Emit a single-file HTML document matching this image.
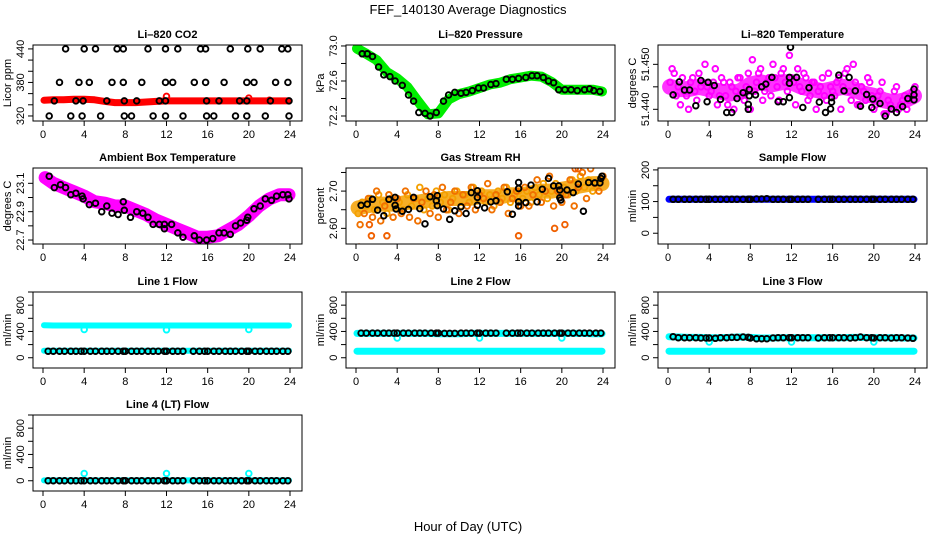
<!DOCTYPE html>
<html><head><meta charset="utf-8"><style>
html,body{margin:0;padding:0;background:#fff;}
svg{display:block;font-family:"Liberation Sans",Arial,sans-serif;}
</style></head><body>
<svg id="chart" width="936" height="540" viewBox="0 0 936 540" xmlns="http://www.w3.org/2000/svg">
<text x="468" y="14" text-anchor="middle" font-size="13">FEF_140130  Average Diagnostics</text>
<text x="468" y="531" text-anchor="middle" font-size="13">Hour of Day (UTC)</text>
</svg>
<script>
// ---------- shared categories ----------
const xTicks = [0,4,8,12,16,20,24];
const bandHours = [0,1,2,3,4,5,6,7,8,9,10,11,12,13,14,15,16,17,18,19,20,21,22,23,24];
const flowHours = [0.5,1.0,1.6,2.1,2.7,3.2,3.7,4.0,4.6,5.1,5.7,6.2,6.7,7.3,7.8,8.0,8.6,9.1,9.6,10.2,10.7,11.2,11.8,12.0,12.6,13.1,13.6,14.6,15.2,15.7,16.0,16.6,17.1,17.7,18.2,18.7,19.3,19.8,20.0,20.6,21.1,21.7,22.2,22.7,23.3,23.8];
const cloudHoursA = [0.2,0.6,1.0,1.4,1.8,2.2,2.6,3.0,3.4,3.8,4.2,4.6,5.0,5.4,5.8,6.2,6.6,7.0,7.4,7.8,8.2,8.6,9.0,9.4,9.8,10.2,10.6,11.0,11.4,11.8,12.2,12.6,13.0,13.4,13.8,14.2,14.6,15.0,15.4,15.8,16.2,16.6,17.0,17.4,17.8,18.2,18.6,19.0,19.4,19.8,20.2,20.6,21.0,21.4,21.8,22.2,22.6,23.0,23.4,23.8];
const cloudHoursB = [0.4,0.8,1.2,1.6,2.0,2.4,2.8,3.2,3.6,4.0,4.4,4.8,5.2,5.6,6.0,6.4,6.8,7.2,7.6,8.0,8.4,8.8,9.2,9.6,10.0,10.4,10.8,11.2,11.6,12.0,12.4,12.8,13.2,13.6,14.0,14.4,14.8,15.2,15.6,16.0,16.4,16.8,17.2,17.6,18.0,18.4,18.8,19.2,19.6,20.0,20.4,20.8,21.2,21.6,22.0,22.4,22.8,23.2,23.6,24.0];
const dipHours = [4,12,20];

// ---------- Li-820 CO2 ----------
const co2Band = [348,349,349,350,350,349,346,344,344,344,345,346,347,347,347,347,347,347,347,347,347,347,347,347,347];
const co2RedHours = [12,20,22];
const co2RedVals = [355,352,348];
const co2BlackHours = [2.2,4.0,5.1,7.2,7.8,10.2,11.9,13.1,15.3,15.8,18.2,19.9,21.1,23.2,23.8, 1.6,3.5,4.5,6.7,7.8,9.6,11.9,12.6,14.7,15.8,17.6,19.8,20.5,22.6,23.8, 1.1,3.2,3.9,6.2,7.9,9.1,11.3,11.9,15.9,17.1,19.1,19.8,22.1,23.9, 0.6,2.7,3.8,5.6,7.9,8.6,10.7,11.9,13.6,15.9,16.6,18.7,19.8,21.6,23.9];
const co2BlackVals = [440,440,440,440,440,440,440,440,440,440,440,440,440,440,440, 380,380,380,380,380,380,380,380,380,380,380,380,380,380,380, 347,347,347,347,347,347,347,347,347,347,347,347,347,347, 320,320,320,320,320,320,320,320,320,320,320,320,320,320,320];

// ---------- Li-820 Pressure ----------
const presBand = [72.97,72.91,72.84,72.70,72.63,72.53,72.37,72.22,72.23,72.39,72.45,72.48,72.52,72.56,72.58,72.62,72.64,72.66,72.65,72.59,72.50,72.50,72.50,72.50,72.48];
const presBlackHours = [0.6,1.1,1.6,2.2,2.7,3.3,3.8,4.5,5.1,5.6,6.1,6.7,7.2,7.8,8.5,9.0,9.6,10.2,10.7,11.3,11.9,12.4,13.1,13.6,14.6,15.2,15.8,16.5,17.1,17.6,18.2,18.7,19.2,19.7,20.3,20.9,21.5,22.2,22.7,23.1,23.7];
const presBlackVals = [72.91,72.91,72.88,72.76,72.67,72.65,72.60,72.55,72.44,72.37,72.24,72.23,72.20,72.24,72.37,72.44,72.47,72.46,72.47,72.49,72.52,72.52,72.56,72.57,72.62,72.62,72.63,72.64,72.66,72.66,72.64,72.60,72.58,72.50,72.50,72.50,72.49,72.50,72.51,72.49,72.48];

// ---------- Li-820 Temperature ----------
const ltempCore = [51.4450,51.4445,51.4445,51.4450,51.4445,51.4440,51.4435,51.4440,51.4455,51.4460,51.4455,51.4460,51.4460,51.4450,51.4445,51.4440,51.4445,51.4450,51.4445,51.4435,51.4430,51.4420,51.4415,51.4420,51.4430];
const ltempA = [51.446,51.448,51.445,51.447,51.443,51.446,51.444,51.448,51.446,51.445,51.444,51.449,51.443,51.446,51.441,51.445,51.444,51.447,51.442,51.448,51.451,51.446,51.449,51.444,51.447,51.450,51.445,51.448,51.446,51.452,51.446,51.449,51.444,51.447,51.443,51.446,51.444,51.447,51.442,51.445,51.443,51.447,51.445,51.449,51.442,51.446,51.441,51.444,51.447,51.443,51.441,51.444,51.439,51.442,51.440,51.445,51.441,51.443,51.442,51.444];
const ltempB = [51.449,51.443,51.441,51.444,51.440,51.447,51.442,51.445,51.450,51.443,51.446,51.441,51.447,51.443,51.446,51.440,51.447,51.443,51.445,51.440,51.444,51.448,51.442,51.446,51.443,51.447,51.442,51.449,51.444,51.447,51.441,51.445,51.448,51.442,51.446,51.440,51.445,51.443,51.448,51.444,51.446,51.440,51.448,51.444,51.450,51.441,51.445,51.442,51.446,51.440,51.443,51.446,51.439,51.441,51.444,51.440,51.442,51.440,51.443,51.445];
const ltempBlackHours = [0.5,1.1,1.6,2.1,2.7,3.2,3.8,3.9,4.5,5.1,5.7,6.2,6.7,7.3,7.8,7.8,7.9,7.9,8.5,9.1,9.5,10.1,10.7,11.2,11.8,11.8,11.8,11.9,12.5,13.1,13.7,14.7,15.3,15.8,15.9,15.9,16.6,17.6,17.1,18.2,18.7,19.3,19.8,19.9,20.6,21.1,21.7,22.2,22.8,23.3,23.9,23.9,23.9];
const ltempBlackVals = [51.4432,51.4461,51.4443,51.4443,51.4408,51.4464,51.4417,51.4460,51.4453,51.4422,51.4393,51.4393,51.4424,51.4437,51.4411,51.4400,51.4444,51.4430,51.4432,51.4450,51.4456,51.4471,51.4417,51.4417,51.4426,51.4471,51.4458,51.4538,51.4471,51.4404,51.4448,51.4416,51.4393,51.4401,51.4426,51.4416,51.4476,51.4471,51.4441,51.4441,51.4407,51.4433,51.4404,51.4423,51.4413,51.4385,51.4401,51.4393,51.4406,51.4424,51.4445,51.4432,51.4421];

// ---------- Ambient Box Temperature ----------
const ambBand = [23.14,23.10,23.07,23.04,23.01,22.97,22.96,22.94,22.94,22.91,22.88,22.84,22.81,22.78,22.75,22.72,22.72,22.73,22.77,22.81,22.87,22.94,22.99,23.02,23.02];
const ambBlackHours = [0.6,1.1,1.7,2.2,2.7,3.2,3.8,3.9,4.5,5.1,5.7,6.2,6.7,7.3,7.8,7.9,8.5,9.1,9.7,10.2,10.7,11.3,11.8,11.8,12.5,13.1,13.6,14.7,15.2,15.9,16.5,17.1,17.6,18.2,18.7,19.2,19.8,19.9,20.5,21.1,21.6,22.2,22.7,23.3,23.8,23.9];
const ambBlackVals = [23.15,23.07,23.09,23.07,23.02,23.03,23.01,22.99,22.95,22.96,22.90,22.94,22.89,22.88,22.97,22.91,22.86,22.90,22.89,22.86,22.81,22.81,22.81,22.78,22.81,22.75,22.72,22.73,22.70,22.70,22.71,22.75,22.75,22.74,22.80,22.82,22.84,22.86,22.92,22.94,22.99,22.98,23.01,23.02,23.02,22.99];

// ---------- Gas Stream RH ----------
const rhCore = [2.655,2.660,2.665,2.665,2.665,2.670,2.670,2.675,2.675,2.680,2.680,2.680,2.685,2.685,2.685,2.690,2.690,2.695,2.700,2.700,2.705,2.710,2.715,2.720,2.720];
const rhA = [2.64,2.67,2.66,2.68,2.65,2.69,2.67,2.64,2.68,2.66,2.67,2.65,2.69,2.66,2.68,2.71,2.65,2.68,2.66,2.70,2.67,2.69,2.65,2.68,2.70,2.66,2.69,2.67,2.71,2.68,2.70,2.67,2.69,2.66,2.70,2.68,2.71,2.67,2.69,2.70,2.68,2.70,2.67,2.71,2.69,2.72,2.68,2.70,2.72,2.69,2.71,2.69,2.73,2.70,2.74,2.71,2.73,2.70,2.72,2.73];
const rhB = [2.61,2.64,2.68,2.63,2.70,2.62,2.66,2.69,2.63,2.68,2.64,2.70,2.63,2.68,2.62,2.67,2.70,2.64,2.69,2.63,2.71,2.65,2.67,2.70,2.64,2.69,2.66,2.71,2.65,2.69,2.68,2.72,2.65,2.69,2.67,2.71,2.64,2.68,2.70,2.66,2.71,2.66,2.69,2.73,2.67,2.70,2.74,2.66,2.70,2.67,2.69,2.73,2.66,2.71,2.75,2.68,2.76,2.72,2.70,2.74];
const rhOutHours = [0.3,1.5,3.0,1.3,15.8,19.3,20.3,21.6,21.3];
const rhOutVals = [2.55,2.58,2.58,2.61,2.58,2.60,2.61,2.76,2.76];
const rhBlackHours = [0.5,1.1,1.6,2.1,2.7,3.2,3.8,3.8,3.9,4.5,5.1,5.6,6.2,6.7,7.2,7.8,7.9,7.9,8.5,9.1,9.6,10.2,10.7,11.2,11.8,11.8,11.8,12.5,13.1,13.6,14.7,15.2,15.8,15.8,15.8,15.8,16.5,17.0,17.6,18.1,18.7,19.2,19.7,19.8,19.8,19.9,20.5,21.1,21.6,22.1,22.6,23.2,23.7,23.8,23.9];
const rhBlackVals = [2.662,2.665,2.678,2.649,2.634,2.678,2.683,2.662,2.652,2.646,2.651,2.683,2.653,2.612,2.685,2.674,2.688,2.661,2.652,2.624,2.647,2.658,2.640,2.696,2.701,2.683,2.662,2.655,2.671,2.674,2.698,2.638,2.707,2.723,2.671,2.660,2.669,2.716,2.671,2.705,2.734,2.714,2.714,2.703,2.682,2.676,2.703,2.696,2.719,2.646,2.723,2.722,2.722,2.734,2.740];

// ---------- Sample Flow ----------
const sampleBand = [107,107,107,107,107,107,107,107,107,107,107,107,107,107,107,107,107,107,107,107,107,107,107,107,107];
const sampleBlack = [107,107,107,107,107,107,107,107,107,107,107,107,107,107,107,107,108,108,109,107,107,107,107,107,107,107,107,107,107,107,107,107,107,107,107,107,107,107,107,107,107,107,107,107,107,107];

// ---------- Line flows ----------
const l1Upper = [495,490,490,490,490,490,490,490,490,490,490,490,490,490,490,490,490,490,490,490,490,490,490,490,490];
const l1Lower = [105,105,105,105,105,105,105,105,105,105,105,105,105,105,105,105,105,105,105,105,105,105,105,105,105];
const l1DipVals = [430,425,430];
const l1Black = [100,100,100,100,100,100,100,100,100,100,100,100,100,100,100,100,100,100,100,100,100,100,100,100,100,100,100,100,100,100,100,100,100,100,100,100,100,100,100,100,100,100,100,100,100,100];

const l2Upper = [370,370,370,370,370,370,370,370,365,365,365,370,370,370,370,370,370,370,370,370,370,370,370,365,365];
const l2Lower = [100,100,100,100,100,100,100,100,100,100,100,100,100,100,100,100,100,100,100,100,100,100,100,100,100];
const l2DipVals = [300,300,300];
const l2Black = [375,375,375,375,375,375,375,375,375,375,375,375,375,375,375,375,370,370,370,375,375,375,375,375,375,375,375,375,375,375,375,375,375,375,375,375,375,375,375,375,375,375,375,375,375,375];

const l3Upper = [320,315,310,310,305,305,310,315,310,300,300,305,305,305,305,305,305,305,310,310,305,305,305,300,300];
const l3Lower = [100,100,100,100,100,100,100,100,100,100,100,100,100,100,100,100,100,100,100,100,100,100,100,100,100];
const l3DipVals = [240,240,240];
const l3Black = [320,305,305,305,305,300,300,300,295,305,305,310,310,315,310,300,290,290,290,300,305,305,305,305,305,305,305,300,305,305,305,305,305,300,305,315,305,305,300,305,305,300,305,305,300,295];

const l4Lower = [5,5,5,5,5,5,5,5,5,5,5,5,5,5,5,5,5,5,5,5,5,5,5,5,5];
const l4DipVals = [110,110,110];
const l4Black = [0,0,0,0,0,0,0,0,0,0,0,0,0,0,0,0,0,0,0,0,0,0,0,0,0,0,0,0,0,0,0,0,0,0,0,0,0,0,0,0,0,0,0,0,0,0];

// ---------- layout ----------
const svg = document.getElementById('chart');
const NS = 'http://www.w3.org/2000/svg';
const colLeft = [33, 346, 658];
const rowTop = [45, 168, 292, 415];
const boxW = 269, boxH = 76;

function mk(tag, attrs, parent){
  const e = document.createElementNS(NS, tag);
  for (const k in attrs) e.setAttribute(k, attrs[k]);
  (parent||svg).appendChild(e);
  return e;
}

function makePanel(cfg){
  const L = colLeft[cfg.col], T = rowTop[cfg.row];
  const g = mk('g', {});
  
  
  const xs = h => L + 10 + h * (247/24);
  const ys = v => T + boxH - (v - cfg.ylim[0]) / (cfg.ylim[1] - cfg.ylim[0]) * boxH;
  const t = mk('text', {x: L + boxW/2, y: T - 7, 'text-anchor':'middle', 'font-size':11, 'font-weight':'bold'}, g);
  t.textContent = cfg.title;
  
  
  const clip = mk('clipPath', {id: 'clip-' + cfg.name}, g);
  mk('rect', {x: L, y: T, width: boxW, height: boxH}, clip);
  const plot = mk('g', {'clip-path': 'url(#clip-' + cfg.name + ')'}, g);
  
  
  return {g, plot, xs, ys, L, T};
}

function axes(p, cfg){
  const {g, xs, ys, L, T} = p;
  const box = mk('rect', {x: L, y: T, width: boxW, height: boxH, fill: 'none', stroke: '#000', 'stroke-width': 1}, g);
  
  
  const B = T + boxH;
  mk('line', {x1: xs(0), x2: xs(24), y1: B, y2: B, stroke: '#000'}, g);
  xTicks.forEach(v => {
    mk('line', {x1: xs(v), x2: xs(v), y1: B, y2: B + 5, stroke: '#000'}, g);
    const tx = mk('text', {x: xs(v), y: B + 17, 'text-anchor': 'middle', 'font-size': 11}, g);
    tx.textContent = v;
    
    
  });
  const yt = cfg.yticks;
  mk('line', {x1: L, x2: L, y1: ys(yt[0]), y2: ys(yt[yt.length-1]), stroke: '#000'}, g);
  yt.forEach(v => {
    mk('line', {x1: L - 5, x2: L, y1: ys(v), y2: ys(v), stroke: '#000'}, g);
  });
  cfg.ylabels.forEach((s, i) => {
    const y = ys(cfg.ylabelVals[i]);
    const tx = mk('text', {x: L - 9, y: y, 'text-anchor': 'middle', 'font-size': 11, transform: 'rotate(-90 ' + (L - 9) + ' ' + y + ')'}, g);
    tx.textContent = s;
    
    
  });
  const cy = T + boxH/2;
  const yl = mk('text', {x: L - 22, y: cy, 'text-anchor': 'middle', 'font-size': 11, transform: 'rotate(-90 ' + (L - 22) + ' ' + cy + ')'}, g);
  yl.textContent = cfg.ylab;
  
  
}

function band(p, hours, vals, color, w, x0, x1, opacity){
  let d = '';
  hours.forEach((h, i) => {
    let hh = h;
    if (i === 0 && x0 !== undefined) hh = x0;
    if (i === hours.length - 1 && x1 !== undefined) hh = x1;
    d += (i ? 'L' : 'M') + p.xs(hh).toFixed(1) + ',' + p.ys(vals[i]).toFixed(1);
  });
  const e = mk('path', {d: d, fill: 'none', stroke: color, 'stroke-width': w, 'stroke-linecap': 'round', 'stroke-linejoin': 'round', 'stroke-opacity': opacity || 1}, p.plot);
  
  
}

function pts(p, hours, vals, color, r, sw){
  hours.forEach((h, i) => {
    const c = mk('circle', {cx: p.xs(h).toFixed(1), cy: p.ys(vals[i]).toFixed(1), r: r || 2.8, fill: 'none', stroke: color, 'stroke-width': sw || 1.9}, p.plot);
    
    
  });
}

const flowY = {ylim: [-156, 1000], yticks: [0,200,400,600,800,1000], ylabels: ['0','400','800'], ylabelVals: [0,400,800], ylab: 'ml/min'};

// CO2
let c = {name: 'co2', title: 'Li\u2013820 CO2', col: 0, row: 0, ylim: [311, 447], yticks: [320,340,360,380,400,420,440], ylabels: ['320','380','440'], ylabelVals: [320,380,440], ylab: 'Licor ppm'};
let p = makePanel(c);
band(p, bandHours, co2Band, '#ff0000', 7, 0.1, 23.9);
pts(p, co2RedHours, co2RedVals, '#ff0000');
pts(p, co2BlackHours, co2BlackVals, '#000');
axes(p, c);

// Pressure
c = {name: 'pressure', title: 'Li\u2013820 Pressure', col: 1, row: 0, ylim: [72.143, 73.011], yticks: [72.2,72.4,72.6,72.8,73.0], ylabels: ['72.2','72.6','73.0'], ylabelVals: [72.2,72.6,73.0], ylab: 'kPa'};
p = makePanel(c);
band(p, bandHours, presBand, '#00ee00', 10, 0.1, 23.9);
pts(p, presBlackHours, presBlackVals, '#000');
axes(p, c);

// Li temp
c = {name: 'li-temp', title: 'Li\u2013820 Temperature', col: 2, row: 0, ylim: [51.4374, 51.4543], yticks: [51.440,51.445,51.450], ylabels: ['51.440','51.450'], ylabelVals: [51.440,51.450], ylab: 'degrees C'};
p = makePanel(c);
band(p, bandHours, ltempCore, '#ff00ff', 16, 0.2, 23.9, 0.8);
pts(p, cloudHoursA, ltempA, '#ff00ff');
pts(p, cloudHoursB, ltempB, '#ff00ff');
pts(p, ltempBlackHours, ltempBlackVals, '#000');
axes(p, c);

// Ambient
c = {name: 'ambient-temp', title: 'Ambient Box Temperature', col: 0, row: 1, ylim: [22.672, 23.208], yticks: [22.7,22.8,22.9,23.0,23.1], ylabels: ['22.7','22.9','23.1'], ylabelVals: [22.7,22.9,23.1], ylab: 'degrees C'};
p = makePanel(c);
band(p, bandHours, ambBand, '#ff00ff', 13, 0.2, 23.9);
pts(p, ambBlackHours, ambBlackVals, '#000');
axes(p, c);

// RH
c = {name: 'gas-rh', title: 'Gas Stream RH', col: 1, row: 1, ylim: [2.558, 2.762], yticks: [2.60,2.65,2.70,2.75], ylabels: ['2.60','2.70'], ylabelVals: [2.60,2.70], ylab: 'percent'};
p = makePanel(c);
band(p, bandHours, rhCore, '#f5a000', 15, 0.2, 23.9, 0.85);
pts(p, cloudHoursA, rhA, '#f4a000');
pts(p, cloudHoursB, rhB, '#f07000');
pts(p, rhOutHours, rhOutVals, '#f06000');
pts(p, rhBlackHours, rhBlackVals, '#000');
axes(p, c);

// Sample flow
c = {name: 'sample-flow', title: 'Sample Flow', col: 2, row: 1, ylim: [-34, 206], yticks: [0,50,100,150,200], ylabels: ['0','100','200'], ylabelVals: [0,100,200], ylab: 'ml/min'};
p = makePanel(c);
band(p, bandHours, sampleBand, '#0000ff', 7, 0.1, 23.9);
pts(p, flowHours, sampleBlack, '#000');
axes(p, c);

// Line 1
c = Object.assign({name: 'line1-flow', title: 'Line 1 Flow', col: 0, row: 2}, flowY);
p = makePanel(c);
band(p, bandHours, l1Upper, '#00ffff', 6, 0.1, 23.9);
band(p, bandHours, l1Lower, '#00ffff', 6, 0.1, 23.9);
pts(p, dipHours, l1DipVals, '#00ffff');
pts(p, flowHours, l1Black, '#000');
axes(p, c);

// Line 2
c = Object.assign({name: 'line2-flow', title: 'Line 2 Flow', col: 1, row: 2}, flowY);
p = makePanel(c);
band(p, bandHours, l2Upper, '#00ffff', 7, 0.1, 23.9);
band(p, bandHours, l2Lower, '#00ffff', 7, 0.1, 23.9);
pts(p, dipHours, l2DipVals, '#00ffff');
pts(p, flowHours, l2Black, '#000');
axes(p, c);

// Line 3
c = Object.assign({name: 'line3-flow', title: 'Line 3 Flow', col: 2, row: 2}, flowY);
p = makePanel(c);
band(p, bandHours, l3Upper, '#00ffff', 7, 0.1, 23.9);
band(p, bandHours, l3Lower, '#00ffff', 7, 0.1, 23.9);
pts(p, dipHours, l3DipVals, '#00ffff');
pts(p, flowHours, l3Black, '#000');
axes(p, c);

// Line 4
c = Object.assign({name: 'line4-flow', title: 'Line 4 (LT) Flow', col: 0, row: 3}, flowY);
p = makePanel(c);
band(p, bandHours, l4Lower, '#00ffff', 6, 0.1, 23.9);
pts(p, dipHours, l4DipVals, '#00ffff');
pts(p, flowHours, l4Black, '#000');
axes(p, c);
</script>
</body></html>
